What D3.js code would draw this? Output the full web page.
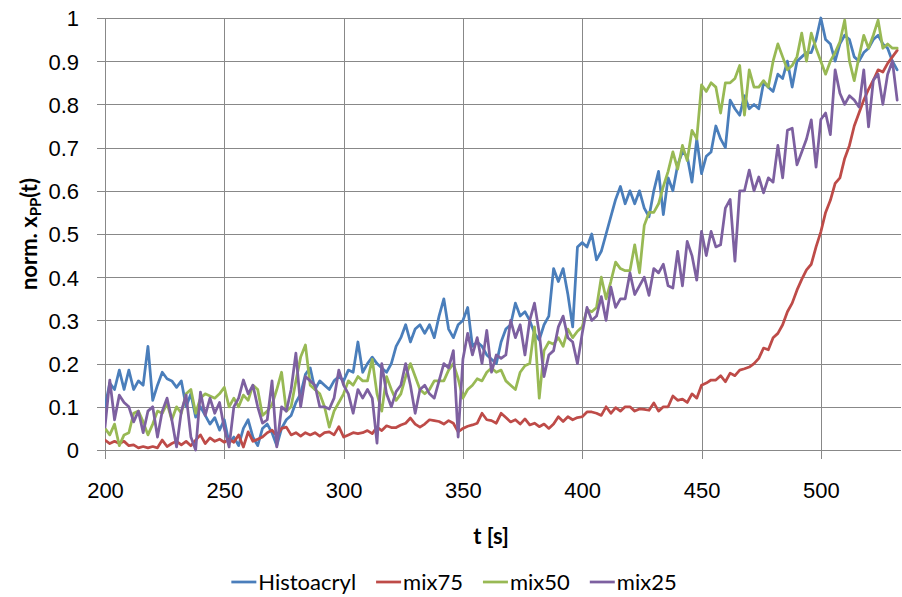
<!DOCTYPE html>
<html>
<head>
<meta charset="UTF-8">
<title>norm. xPP(t)</title>
<script src="https://d3js.org/d3.v7.min.js"></script>
<style>
  body { margin: 0; background: #fff; }
  svg { display: block; font-family: Lato, "Open Sans", sans-serif; }
  .grid line { stroke: #888; stroke-width: 1px; shape-rendering: crispEdges; }
  .grid text { font-size: 22px; fill: #000; }
  .series { fill: none; stroke-width: 2.75px; stroke-linejoin: round; stroke-linecap: round; }
  .title { font-size: 22px; font-weight: bold; }
  .legend text { font-size: 22px; }
</style>
</head>
<body>
<div id="chart"></div>
<script>
// time axis: one sample every 2 s
const times = d3.range(200, 533, 2);

const seriesNames = ["Histoacryl", "mix75", "mix50", "mix25"];
const seriesColors = ["#4a7ebb", "#be4b48", "#98b954", "#7d60a0"];

// values, 200..532 s
const histoacryl = [
  0.10, 0.155, 0.14, 0.185, 0.14, 0.185, 0.14, 0.16, 0.15, 0.24,
  0.115, 0.15, 0.18, 0.165, 0.16, 0.145, 0.16, 0.10, 0.13, 0.076,
  0.10, 0.08, 0.06, 0.075, 0.046, 0.07, 0.016, 0.03, 0.01, 0.05,
  0.07, 0.03, 0.01, 0.05, 0.06, 0.04, 0.01, 0.05, 0.07, 0.08,
  0.11, 0.13, 0.175, 0.19, 0.14, 0.16, 0.15, 0.14, 0.16, 0.17,
  0.16, 0.185, 0.18, 0.25, 0.18, 0.20, 0.215, 0.20, 0.19, 0.18,
  0.20, 0.24, 0.26, 0.29, 0.25, 0.28, 0.29, 0.27, 0.29, 0.26,
  0.31, 0.35, 0.28, 0.26, 0.29, 0.30, 0.33, 0.24, 0.25, 0.24,
  0.22, 0.21, 0.20, 0.25, 0.28, 0.29, 0.34, 0.31, 0.32, 0.30,
  0.27, 0.255, 0.29, 0.31, 0.42, 0.39, 0.42, 0.36, 0.285, 0.47,
  0.48, 0.47, 0.50, 0.44, 0.46, 0.50, 0.54, 0.58, 0.61, 0.57,
  0.60, 0.57, 0.60, 0.56, 0.54, 0.60, 0.645, 0.545, 0.63, 0.60,
  0.66, 0.69, 0.68, 0.62, 0.72, 0.64, 0.68, 0.69, 0.75, 0.72,
  0.70, 0.81, 0.79, 0.775, 0.82, 0.79, 0.80, 0.79, 0.85, 0.84,
  0.83, 0.87, 0.86, 0.90, 0.84, 0.90, 0.91, 0.92, 0.92, 0.95,
  1.00, 0.95, 0.94, 0.90, 0.94, 0.96, 0.95, 0.91, 0.90, 0.92,
  0.93, 0.95, 0.96, 0.94, 0.93, 0.90, 0.88
];
const mix75 = [
  0.023, 0.015, 0.02, 0.015, 0.02, 0.01, 0.012, 0.005, 0.008, 0.005,
  0.008, 0.005, 0.023, 0.008, 0.015, 0.02, 0.012, 0.02, 0.01, 0.023,
  0.035, 0.015, 0.028, 0.02, 0.025, 0.018, 0.025, 0.018, 0.035, 0.007,
  0.042, 0.02, 0.025, 0.03, 0.04, 0.046, 0.033, 0.05, 0.053, 0.035,
  0.04, 0.032, 0.04, 0.035, 0.04, 0.032, 0.04, 0.042, 0.035, 0.054,
  0.03, 0.035, 0.04, 0.038, 0.04, 0.045, 0.038, 0.053, 0.045, 0.056,
  0.052, 0.052, 0.058, 0.062, 0.074, 0.06, 0.053, 0.06, 0.07, 0.068,
  0.066, 0.06, 0.068, 0.062, 0.042, 0.05, 0.055, 0.058, 0.062, 0.085,
  0.07, 0.068, 0.062, 0.085, 0.075, 0.065, 0.07, 0.06, 0.072, 0.058,
  0.062, 0.054, 0.06, 0.05, 0.06, 0.077, 0.066, 0.077, 0.07, 0.075,
  0.077, 0.088, 0.088, 0.085, 0.08, 0.10, 0.085, 0.098, 0.09, 0.10,
  0.10, 0.09, 0.095, 0.094, 0.092, 0.109, 0.09, 0.10, 0.10, 0.125,
  0.115, 0.118, 0.11, 0.13, 0.12, 0.15, 0.155, 0.162, 0.162, 0.172,
  0.158, 0.178, 0.172, 0.185, 0.188, 0.192, 0.20, 0.212, 0.236, 0.232,
  0.26, 0.27, 0.29, 0.32, 0.34, 0.37, 0.395, 0.417, 0.43, 0.47,
  0.505, 0.55, 0.578, 0.617, 0.63, 0.675, 0.705, 0.75, 0.78, 0.81,
  0.835, 0.856, 0.88, 0.875, 0.895, 0.91, 0.925
];
const mix50 = [
  0.05, 0.035, 0.06, 0.01, 0.035, 0.04, 0.085, 0.09, 0.065, 0.035,
  0.06, 0.09, 0.085, 0.108, 0.07, 0.10, 0.085, 0.13, 0.14, 0.085,
  0.12, 0.13, 0.125, 0.12, 0.13, 0.145, 0.10, 0.12, 0.10, 0.127,
  0.115, 0.15, 0.14, 0.08, 0.09, 0.105, 0.14, 0.18, 0.09, 0.10,
  0.16, 0.215, 0.243, 0.15, 0.14, 0.13, 0.10, 0.053, 0.09, 0.11,
  0.13, 0.16, 0.15, 0.17, 0.16, 0.16, 0.21, 0.13, 0.09, 0.17,
  0.14, 0.115, 0.13, 0.17, 0.20, 0.17, 0.14, 0.13, 0.14, 0.16,
  0.16, 0.16, 0.185, 0.20, 0.165, 0.12, 0.14, 0.15, 0.165, 0.16,
  0.18, 0.19, 0.18, 0.185, 0.16, 0.15, 0.14, 0.18, 0.195, 0.20,
  0.285, 0.12, 0.23, 0.25, 0.245, 0.26, 0.24, 0.28, 0.26, 0.275,
  0.285, 0.325, 0.32, 0.33, 0.40, 0.35, 0.39, 0.435, 0.42, 0.415,
  0.415, 0.475, 0.41, 0.52, 0.55, 0.55, 0.57, 0.61, 0.645, 0.69,
  0.65, 0.705, 0.67, 0.74, 0.72, 0.845, 0.83, 0.85, 0.84, 0.78,
  0.85, 0.85, 0.86, 0.89, 0.775, 0.88, 0.84, 0.84, 0.855, 0.84,
  0.90, 0.94, 0.91, 0.88, 0.89, 0.91, 0.965, 0.90, 0.965, 0.93,
  0.90, 0.87, 0.90, 0.92, 0.945, 0.995, 0.90, 0.855, 0.91, 0.96,
  0.93, 0.96, 0.995, 0.93, 0.94, 0.93, 0.93
];
const mix25 = [
  0.053, 0.162, 0.07, 0.127, 0.11, 0.10, 0.065, 0.09, 0.04, 0.09,
  0.10, 0.03, 0.09, 0.12, 0.07, 0.007, 0.09, 0.127, 0.03, 0.0,
  0.134, 0.08, 0.12, 0.085, 0.11, 0.05, 0.007, 0.10, 0.12, 0.162,
  0.13, 0.15, 0.10, 0.062, 0.07, 0.16, 0.007, 0.10, 0.09, 0.14,
  0.224, 0.10, 0.17, 0.16, 0.15, 0.10, 0.10, 0.095, 0.12, 0.185,
  0.15, 0.13, 0.085, 0.14, 0.12, 0.14, 0.12, 0.016, 0.20, 0.13,
  0.10, 0.135, 0.15, 0.20, 0.15, 0.085, 0.14, 0.15, 0.13, 0.12,
  0.16, 0.20, 0.19, 0.23, 0.03, 0.21, 0.27, 0.22, 0.26, 0.20,
  0.277, 0.18, 0.22, 0.212, 0.22, 0.30, 0.26, 0.29, 0.22, 0.30,
  0.34, 0.27, 0.17, 0.22, 0.23, 0.285, 0.31, 0.26, 0.25, 0.20,
  0.27, 0.33, 0.30, 0.31, 0.355, 0.30, 0.377, 0.33, 0.35, 0.35,
  0.41, 0.36, 0.38, 0.40, 0.358, 0.42, 0.41, 0.43, 0.38, 0.375,
  0.46, 0.38, 0.483, 0.45, 0.393, 0.506, 0.45, 0.506, 0.47, 0.475,
  0.56, 0.58, 0.437, 0.60, 0.60, 0.648, 0.60, 0.632, 0.595, 0.63,
  0.62, 0.705, 0.63, 0.74, 0.745, 0.66, 0.69, 0.72, 0.764, 0.655,
  0.765, 0.78, 0.73, 0.88, 0.826, 0.80, 0.82, 0.81, 0.794, 0.88,
  0.748, 0.856, 0.87, 0.80, 0.87, 0.90, 0.81
];

const yTicks = [0, 0.1, 0.2, 0.3, 0.4, 0.5, 0.6, 0.7, 0.8, 0.9, 1];
const xTicks = [200, 250, 300, 350, 400, 450, 500];

const width = 902, height = 597;
const plot = { left: 105, right: 901, top: 18, bottom: 450 };

const svg = d3.select("#chart").append("svg")
  .attr("width", width)
  .attr("height", height);

const x = d3.scaleLinear().domain([200, 533.6]).range([plot.left, plot.right]);
const y = d3.scaleLinear().domain([0, 1]).range([plot.bottom, plot.top]);

// horizontal grid + y labels
svg.append("g")
  .attr("class", "grid")
  .attr("transform", `translate(${plot.left - 8},0)`)
  .call(d3.axisLeft(y)
    .tickValues(yTicks)
    .tickFormat(d => d === 0 || d === 1 ? d3.format("d")(d) : d3.format(".1f")(d))
    .tickSize(-(plot.right - plot.left + 8))
    .tickPadding(18))
  .call(g => g.select(".domain").remove())
  .call(g => g.selectAll("text").attr("dy", "0.36em"));

// vertical grid + x labels
svg.append("g")
  .attr("class", "grid")
  .attr("transform", `translate(0,${plot.bottom + 9})`)
  .call(d3.axisBottom(x)
    .tickValues(xTicks)
    .tickFormat(d3.format("d"))
    .tickSize(-(plot.bottom - plot.top + 9))
    .tickPadding(23))
  .call(g => g.select(".domain").remove());

svg.append("clipPath").attr("id", "clip")
  .append("rect")
  .attr("x", plot.left).attr("y", plot.top - 3)
  .attr("width", plot.right - plot.left + 1).attr("height", plot.bottom - plot.top + 6);

const allSeries = [histoacryl, mix75, mix50, mix25];
const line = d3.line()
  .x((d, i) => x(times[i]))
  .y(d => y(d));

svg.append("g")
  .attr("clip-path", "url(#clip)")
  .selectAll("path")
  .data(allSeries)
  .join("path")
  .attr("class", "series")
  .attr("stroke", (d, i) => seriesColors[i])
  .attr("d", line);

// axis titles
svg.append("text")
  .attr("class", "title")
  .attr("x", 491)
  .attr("y", 544)
  .attr("text-anchor", "middle")
  .text("t [s]");

const yTitle = svg.append("text")
  .attr("class", "title")
  .attr("font-size", "23px")
  .attr("transform", "translate(37,234) rotate(-90)")
  .attr("text-anchor", "middle");
yTitle.append("tspan").text("norm. x");
yTitle.append("tspan").attr("font-size", "15px").attr("dy", "4").text("PP");
yTitle.append("tspan").attr("dy", "-4").text("(t)");

// legend
const legend = svg.append("g").attr("class", "legend");
let cursor = 0;
seriesNames.forEach((name, i) => {
  const g = legend.append("g");
  g.append("line")
    .attr("x1", 0).attr("x2", 25)
    .attr("y1", 0).attr("y2", 0)
    .attr("stroke", seriesColors[i])
    .attr("stroke-width", 2.75);
  const t = g.append("text").attr("x", 27).attr("y", 8).text(name);
  const w = 27 + t.node().getComputedTextLength();
  g.attr("transform", `translate(${cursor},0)`);
  cursor += w + 20;
});
const legendWidth = cursor - 20;
legend.attr("transform", `translate(${454 - legendWidth / 2},582)`);
</script>
</body>
</html>
